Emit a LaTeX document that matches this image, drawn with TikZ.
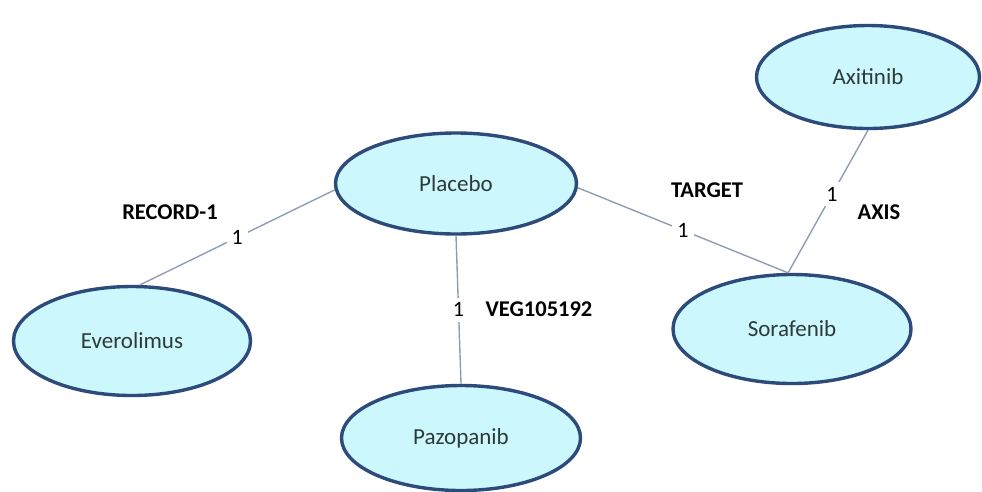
\documentclass[tikz,border=0pt]{standalone}
\usepackage{fontspec}
\setmainfont{Carlito}
\usetikzlibrary{shapes.geometric}
\definecolor{nodefill}{HTML}{CCF7FD}
\definecolor{nodeedge}{HTML}{2C4B7A}
\definecolor{linkcol}{HTML}{8E9DB4}
\definecolor{nametext}{HTML}{2E3A3A}
\begin{document}
\begin{tikzpicture}[x=1pt,y=-1pt,
  drug/.style={ellipse, draw=nodeedge, line width=3.4pt, fill=nodefill,
    inner sep=0pt, text=nametext, font=\fontsize{23}{27}\selectfont},
  link/.style={draw=linkcol, line width=1.4pt},
  count/.style={fill=white, inner sep=5pt, font=\fontsize{22}{26}\selectfont},
  trial/.style={font=\fontsize{22.5}{27}\selectfont\bfseries}]
\useasboundingbox (0,0) rectangle (982,491);

% treatments
\node[drug, minimum width=241pt, minimum height=101pt] (pl) at (456,183.5) {Placebo};
\node[drug, minimum width=237pt, minimum height=109pt] (ev) at (132,341) {Everolimus};
\node[drug, minimum width=239pt, minimum height=105pt] (pz) at (461,438) {Pazopanib};
\node[drug, minimum width=238pt, minimum height=109pt] (so) at (792,329) {Sorafenib};
\node[drug, minimum width=223pt, minimum height=103pt] (ax) at (868,77) {Axitinib};

% trial connections
\draw[link] (pl.183) -- node[count] {1} (ev.82);
\draw[link] (pl.south) -- node[count] {1} (pz.north);
\draw[link] (pl.-2) -- node[count] {1} (so.94);
\draw[link] (so.94) -- node[count, pos=0.55] {1} (ax.south);

% trial names
\node[trial] (rec) at (170,212) {RECORD-1};
\node[trial] (veg) at (539,309) {VEG105192};
\node[trial] (tgt) at (707,190) {TARGET};
\node[trial] (axs) at (879,212) {AXIS};
\end{tikzpicture}
\end{document}
